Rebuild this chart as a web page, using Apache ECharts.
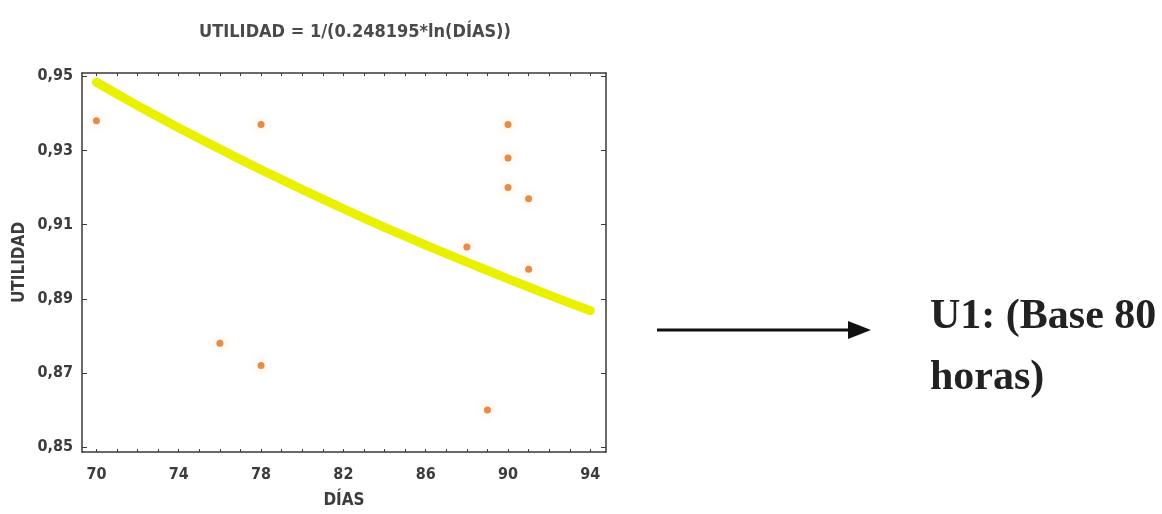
<!DOCTYPE html>
<html>
<head>
<meta charset="utf-8">
<script src="https://cdn.jsdelivr.net/npm/echarts@6/dist/echarts.min.js"></script>
<style>
html,body{margin:0;padding:0;background:#fff;}
#chart{width:1162px;height:514px;}
</style>
</head>
<body>
<div id="chart"></div>
<script>
// ---- data ----
var titleText = 'UTILIDAD = 1/(0.248195*ln(DÍAS))';
var xName = 'DÍAS';
var yName = 'UTILIDAD';
var xTickLabels = [70, 74, 78, 82, 86, 90, 94];
var yTickLabels = [0.85, 0.87, 0.89, 0.91, 0.93, 0.95];
var xMinorTicks = [70,71,72,73,74,75,76,77,78,79,80,81,82,83,84,85,86,87,88,89,90,91,92,93,94];
var pointDays = [70, 76, 78, 78, 88, 89, 90, 90, 90, 91, 91];
var pointUtil = [0.938, 0.878, 0.937, 0.872, 0.904, 0.860, 0.937, 0.928, 0.920, 0.917, 0.898];
var curveDays = [70, 72, 74, 76, 78, 80, 82, 84, 86, 88, 90, 92, 94];
var curveUtil = [0.9484, 0.9421, 0.9361, 0.9304, 0.9248, 0.9195, 0.9143, 0.9093, 0.9045, 0.8999, 0.8954, 0.8910, 0.8868];
var sideLine1 = 'U1: (Base 80';
var sideLine2 = 'horas)';

var font = '"Liberation Sans Narrow", "DejaVu Sans Condensed", "Arial Narrow", sans-serif';
var scatterData = pointDays.map(function (d, i) { return [d, pointUtil[i]]; });
var curveData = curveDays.map(function (d, i) { return [d, curveUtil[i]]; });

var chart = echarts.init(document.getElementById('chart'), null, {renderer: 'canvas'});
var axisColor = '#3a3a3a';
var labelStyle = {color: '#3c3c3c', fontFamily: font, fontWeight: 'bold', fontSize: 16};
var sideFont = 'bold 42px "Liberation Serif", "Times New Roman", serif';

chart.setOption({
  backgroundColor: '#fff',
  animation: false,
  title: {
    text: titleText,
    left: 350,
    top: 18,
    textAlign: 'center',
    textStyle: {color: '#4a4a4a', fontFamily: font, fontWeight: 'bold', fontSize: 18}
  },
  grid: {left: 82, right: 556, top: 73, bottom: 60, show: false},
  xAxis: [{
    type: 'value', min: 69.3, max: 94.76, position: 'bottom',
    name: xName, nameLocation: 'middle', nameGap: 40,
    nameTextStyle: {color: '#3c3c3c', fontFamily: font, fontWeight: 'bold', fontSize: 17},
    axisLine: {show: true, onZero: false, lineStyle: {color: axisColor, width: 1.5}},
    axisTick: {show: true, inside: true, length: 3, customValues: xMinorTicks, lineStyle: {color: axisColor}},
    axisLabel: Object.assign({customValues: xTickLabels, margin: 15}, labelStyle),
    splitLine: {show: false}
  }, {
    type: 'value', min: 69.3, max: 94.76, position: 'top',
    axisLine: {show: true, onZero: false, lineStyle: {color: axisColor, width: 1.5}},
    axisTick: {show: true, inside: true, length: 3, customValues: xMinorTicks, lineStyle: {color: axisColor}},
    axisLabel: {show: false},
    splitLine: {show: false}
  }],
  yAxis: [{
    type: 'value', min: 0.8487, max: 0.9509, position: 'left',
    name: yName, nameLocation: 'middle', nameGap: 54, nameRotate: 90,
    nameTextStyle: {color: '#3c3c3c', fontFamily: font, fontWeight: 'bold', fontSize: 17},
    axisLine: {show: true, onZero: false, lineStyle: {color: axisColor, width: 1.5}},
    axisTick: {show: true, inside: true, length: 5, customValues: yTickLabels, lineStyle: {color: axisColor}},
    axisLabel: Object.assign({customValues: yTickLabels, margin: 9,
      formatter: function (v) { return v.toFixed(2).replace('.', ','); }}, labelStyle),
    splitLine: {show: false}
  }, {
    type: 'value', min: 0.8487, max: 0.9509, position: 'right',
    axisLine: {show: true, onZero: false, lineStyle: {color: axisColor, width: 1.5}},
    axisTick: {show: true, inside: true, length: 5, customValues: yTickLabels, lineStyle: {color: axisColor}},
    axisLabel: {show: false},
    splitLine: {show: false}
  }],
  series: [{
    type: 'line',
    data: curveData,
    smooth: 0.2,
    symbol: 'none',
    lineStyle: {color: '#e9f000', width: 9, cap: 'round', join: 'round'},
    z: 2
  }, {
    type: 'scatter',
    data: scatterData,
    symbol: 'circle',
    symbolSize: 7,
    itemStyle: {color: '#e0701e', shadowColor: 'rgba(245,170,90,0.55)', shadowBlur: 10},
    z: 3
  }],
  graphic: [{
    type: 'line',
    shape: {x1: 657, y1: 330, x2: 852, y2: 330},
    style: {stroke: '#111', lineWidth: 3}
  }, {
    type: 'polygon',
    shape: {points: [[848, 321], [871, 330], [848, 339]]},
    style: {fill: '#111'}
  }, {
    type: 'text',
    left: 930, top: 296,
    style: {text: sideLine1, fill: '#222', font: sideFont}
  }, {
    type: 'text',
    left: 930, top: 357,
    style: {text: sideLine2, fill: '#222', font: sideFont}
  }]
});
</script>
</body>
</html>
